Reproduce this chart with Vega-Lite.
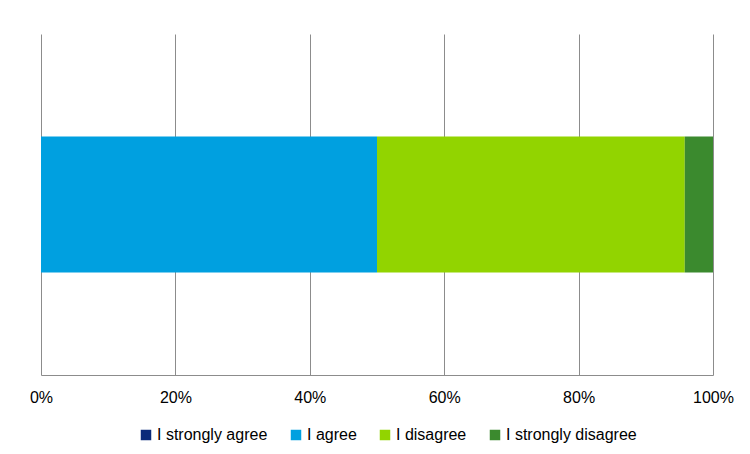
{
  "$schema": "https://vega.github.io/schema/vega-lite/v6.json",
  "autosize": "none",
  "width": 672,
  "height": 341,
  "padding": {"left": 41, "top": 34, "right": 37, "bottom": 79},
  "background": "white",
  "config": {"view": {"stroke": null}, "font": "Liberation Sans"},
  "data": {"values": [
    {"q": "Q", "response": "I strongly agree", "order": 1, "value": 0},
    {"q": "Q", "response": "I agree", "order": 2, "value": 50},
    {"q": "Q", "response": "I disagree", "order": 3, "value": 45.8},
    {"q": "Q", "response": "I strongly disagree", "order": 4, "value": 4.2}
  ]},
  "mark": {"type": "bar", "size": 136},
  "encoding": {
    "y": {"field": "q", "type": "nominal", "axis": null},
    "x": {
      "field": "value", "type": "quantitative", "stack": "normalize",
      "scale": {"domain": [0, 1], "nice": false},
      "axis": {
        "format": ".0%", "values": [0, 0.2, 0.4, 0.6, 0.8, 1], "title": null,
        "grid": true, "gridColor": "#8c8c8c", "gridWidth": 1,
        "domain": true, "domainColor": "#8c8c8c", "domainWidth": 1,
        "ticks": false, "labelPadding": 14, "labelFontSize": 16, "labelColor": "#000",
        "labelFlush": false
      }
    },
    "color": {
      "field": "response", "type": "nominal",
      "scale": {
        "domain": ["I strongly agree", "I agree", "I disagree", "I strongly disagree"],
        "range": ["#0a2a7a", "#00a0e0", "#92d400", "#3b8a2e"]
      },
      "legend": {
        "title": null, "orient": "none", "direction": "horizontal",
        "legendX": 97, "legendY": 393,
        "symbolType": "square", "symbolSize": 110, "symbolStrokeWidth": 0,
        "labelFontSize": 16, "labelColor": "#000", "columnPadding": 20, "symbolOffset": 0, "labelOffset": 3
      }
    },
    "order": {"field": "order", "type": "quantitative"}
  }
}
